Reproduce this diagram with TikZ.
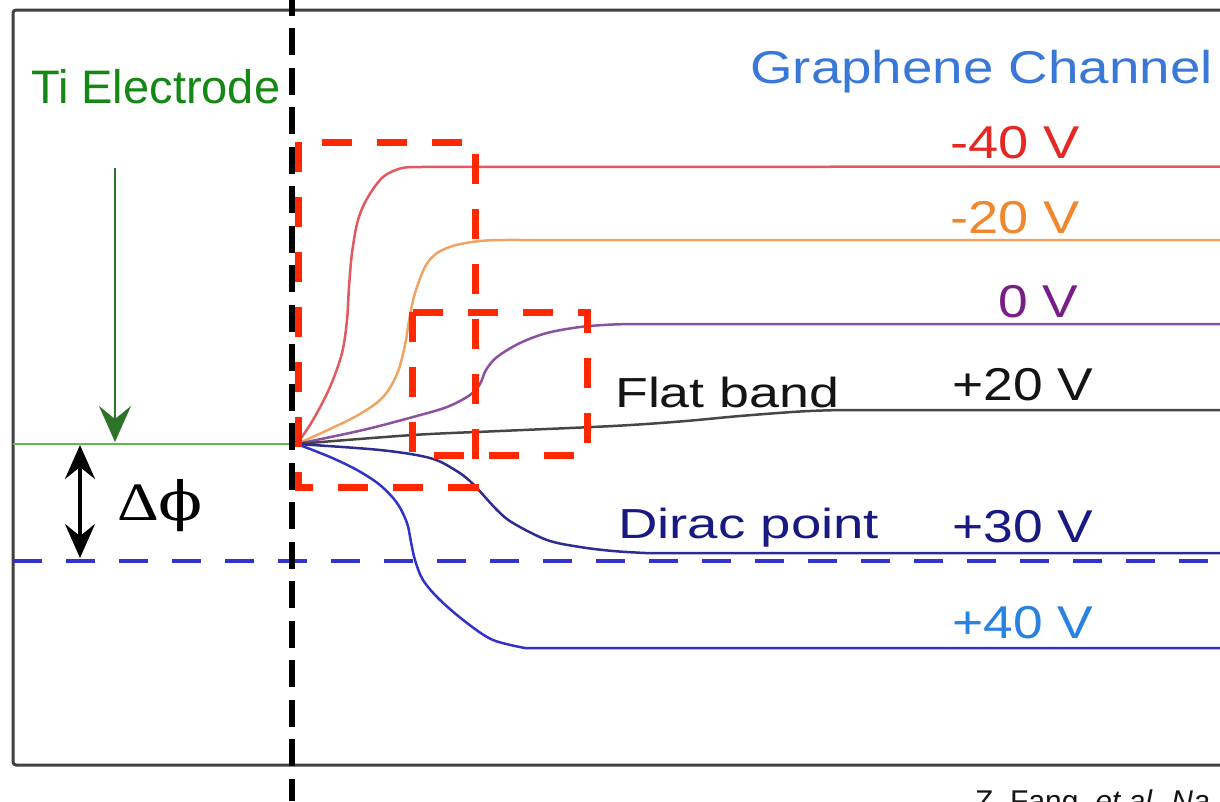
\documentclass[tikz,border=0pt]{standalone}
\usepackage{fontspec}
\setmainfont{Liberation Sans}
\newfontfamily\serifgr{Liberation Serif}
\newfontfamily\serifphi{DejaVu Serif}
\usetikzlibrary{arrows.meta}
\definecolor{tigreen}{RGB}{20,135,20}
\definecolor{elgreen}{RGB}{95,185,80}
\definecolor{arrgreen}{RGB}{45,115,40}
\definecolor{chanblue}{RGB}{58,120,215}
\definecolor{tred}{RGB}{228,40,35}
\definecolor{lred}{RGB}{225,90,95}
\definecolor{torange}{RGB}{240,135,45}
\definecolor{lorange}{RGB}{238,165,100}
\definecolor{tpurple}{RGB}{120,30,135}
\definecolor{lpurple}{RGB}{140,80,160}
\definecolor{tblack}{RGB}{20,20,20}
\definecolor{lblack}{RGB}{70,70,70}
\definecolor{tnavy}{RGB}{25,25,130}
\definecolor{lnavy}{RGB}{45,45,145}
\definecolor{tlblue}{RGB}{40,130,225}
\definecolor{lblue}{RGB}{50,50,200}
\definecolor{dashblue}{RGB}{50,50,205}
\definecolor{boxred}{RGB}{255,40,0}
\definecolor{framegray}{RGB}{65,65,65}
\begin{document}
\begin{tikzpicture}[x=1pt,y=-1pt,
  lbl/.style={inner sep=0pt, anchor=base west},
  curve/.style={line width=2.5pt, line cap=round, line join=round},
  redbox/.style={draw=boxred, line width=7pt, dash pattern=on 30pt off 25pt},
  tipstyle/.style={line width=3.5pt}
]
\useasboundingbox (0,0) rectangle (1220,801);
\fill[white] (0,0) rectangle (1220,801);

% frame
\draw[framegray, line width=3pt, rounded corners=3pt] (13,10) rectangle (1250,765);

% electrode level
\coordinate (pivot) at (297,444);
\coordinate (eleft) at (13,444);
\draw[elgreen, line width=2.5pt] (eleft) -- (pivot);

% Dirac dashed level
\coordinate (dl) at (13,561);
\coordinate (dr) at (1230,561);
\draw[dashblue, line width=4pt, dash pattern=on 29pt off 24pt] (dl) -- (dr);

% curves
\draw[curve, lred] plot[smooth, tension=0.55] coordinates {(297,444) (313,420) (330,387) (342,353) (347,320) (349,287) (352,253) (358,220) (368,197) (383,177) (400,168.5) (413,167)} -- (1230,166.5);
\draw[curve, lorange] plot[smooth, tension=0.6] coordinates {(297,444) (330,429) (360,414) (383,397) (397,374) (405,345) (410,315) (416,290) (428,262) (447,248) (480,241) (520,240)} -- (1230,240);
\draw[curve, lpurple] plot[smooth, tension=0.55] coordinates {(297,444) (363,430) (413,417) (447,407) (470,395) (480,384) (486,370) (497,357) (520,343) (547,333) (580,327) (613,324.5) (640,324)} -- (1230,324);
\draw[curve, lblack] plot[smooth, tension=0.55] coordinates {(297,444) (413,435) (500,431) (613,426) (680,421.5) (740,416) (800,411.5) (840,410)} -- (1230,410);
\draw[curve, lnavy] plot[smooth, tension=0.55] coordinates {(297,444) (380,450) (430,458) (455,470) (472,483) (497,510) (513,523) (547,540) (580,547) (613,551) (645,553)} -- (1230,553);
\draw[curve, lblue] plot[smooth, tension=0.55] coordinates {(297,444) (330,457) (357,470) (380,485) (397,503) (407,523) (411,542) (415,560) (423,580) (440,600) (467,623) (493,640) (525,648)} -- (1230,648);

% vertical black dashed boundary
\coordinate (vtop) at (292,0);
\coordinate (vbot) at (292,801);
\draw[black, line width=6pt, dash pattern=on 27pt off 12.5pt, dash phase=11.5pt] (vtop) -- (vbot);

% red dashed boxes
\draw[redbox] (298,142) rectangle (475,487);
\draw[redbox] (412,312) rectangle (587,455);

% arrows
\coordinate (gtop) at (115,168);
\coordinate (gtip) at (115,442);
\draw[arrgreen, line width=2.2pt, -{Stealth[length=36pt,width=32pt,inset=13pt]}] (gtop) -- (gtip);
\coordinate (dtop) at (80,445);
\coordinate (dbot) at (80,558);
\draw[black, tipstyle, {Stealth[length=34pt,width=30pt,inset=12pt]}-{Stealth[length=34pt,width=30pt,inset=12pt]}] (dtop) -- (dbot);

% texts
\node[lbl, text=tigreen] (ti) at (31,103) {\fontsize{47}{52}\selectfont Ti Electrode};
\node[lbl, text=chanblue] (gc) at (750,83) {\scalebox{1.19}[1]{\fontsize{46}{50}\selectfont Graphene Channel}};
\node[lbl, text=tred] (vm40) at (950,158) {\scalebox{1.18}[1]{\fontsize{46}{50}\selectfont -40 V}};
\node[lbl, text=torange] (vm20) at (950,233) {\scalebox{1.18}[1]{\fontsize{46}{50}\selectfont -20 V}};
\node[lbl, text=tpurple] (v0) at (998,317) {\scalebox{1.16}[1]{\fontsize{46}{50}\selectfont 0 V}};
\node[lbl, text=tblack] (vp20) at (952,400) {\scalebox{1.16}[1]{\fontsize{46}{50}\selectfont +20 V}};
\node[lbl, text=tnavy] (vp30) at (952,542) {\scalebox{1.16}[1]{\fontsize{46}{50}\selectfont +30 V}};
\node[lbl, text=tlblue] (vp40) at (952,638) {\scalebox{1.16}[1]{\fontsize{46}{50}\selectfont +40 V}};
\node[lbl, text=tblack] (flat) at (615,407) {\scalebox{1.28}[1]{\fontsize{42}{46}\selectfont Flat band}};
\node[lbl, text=tnavy] (dirac) at (618,538) {\scalebox{1.3}[1]{\fontsize{42}{46}\selectfont Dirac point}};
\node[lbl, text=black] (dphi) at (117,520) {\scalebox{1.2}[1]{\fontsize{54}{58}\selectfont{\serifgr Δ}{\serifphi ϕ}}};
\node[lbl, text=tblack] (cite) at (975,811) {\fontsize{30}{34}\selectfont Z. Fang, \textit{et al. Na}};
\end{tikzpicture}
\end{document}
